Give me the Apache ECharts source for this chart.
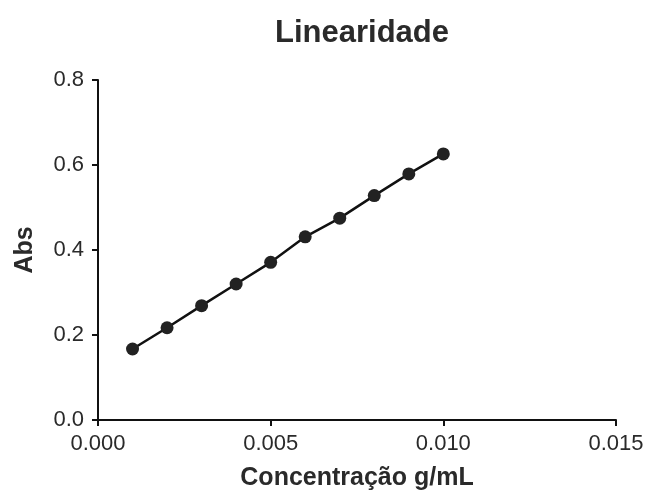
<!DOCTYPE html>
<html><head><meta charset="utf-8">
<script src="https://cdn.jsdelivr.net/npm/echarts@6/dist/echarts.min.js"></script>
<style>html,body{margin:0;padding:0;background:#fff}#c{width:647px;height:496px}</style>
</head><body><div id="c"></div>
<script>
const concentrations = [0.001,0.002,0.003,0.004,0.005,0.006,0.007,0.008,0.009,0.010];
const absValues = [0.167,0.217,0.269,0.320,0.371,0.431,0.475,0.528,0.579,0.626];
const xTicks = ['0.000','0.005','0.010','0.015'];
const yTicks = ['0.0','0.2','0.4','0.6','0.8'];

const chart = echarts.init(document.getElementById('c'));
const font = 'Liberation Sans, Arial, sans-serif';
chart.setOption({
  animation:false,
  title:{text:'Linearidade',left:357,top:13,textAlign:'center',
    textStyle:{fontFamily:font,fontSize:31,fontWeight:'bold',color:'#2a2a2a'}},
  grid:{left:98,right:31,top:80,bottom:76},
  xAxis:{type:'value',min:0,max:0.015,interval:0.005,
    name:'Concentração g/mL',nameLocation:'middle',nameGap:46,
    nameTextStyle:{fontFamily:font,fontSize:25,fontWeight:'bold',color:'#2a2a2a'},
    axisLine:{lineStyle:{color:'#111',width:2}},
    axisTick:{show:true,length:6,lineStyle:{color:'#111',width:2}},
    splitLine:{show:false},
    axisLabel:{fontFamily:font,fontSize:22,color:'#2a2a2a',margin:13,
      formatter:(v)=>xTicks[Math.round(v/0.005)]}},
  yAxis:{type:'value',min:0,max:0.8,interval:0.2,
    name:'Abs',nameLocation:'middle',nameGap:60,
    nameTextStyle:{fontFamily:font,fontSize:25,fontWeight:'bold',color:'#2a2a2a'},
    axisLine:{show:true,lineStyle:{color:'#111',width:2}},
    axisTick:{show:true,length:6,lineStyle:{color:'#111',width:2}},
    splitLine:{show:false},
    axisLabel:{fontFamily:font,fontSize:22,color:'#2a2a2a',margin:14,
      formatter:(v)=>yTicks[Math.round(v/0.2)]}},
  series:[{type:'line',data:concentrations.map((c,i)=>[c,absValues[i]]),
    symbol:'circle',symbolSize:13,
    lineStyle:{color:'#111',width:2.5},
    itemStyle:{color:'#222'}}]
});
</script></body></html>
